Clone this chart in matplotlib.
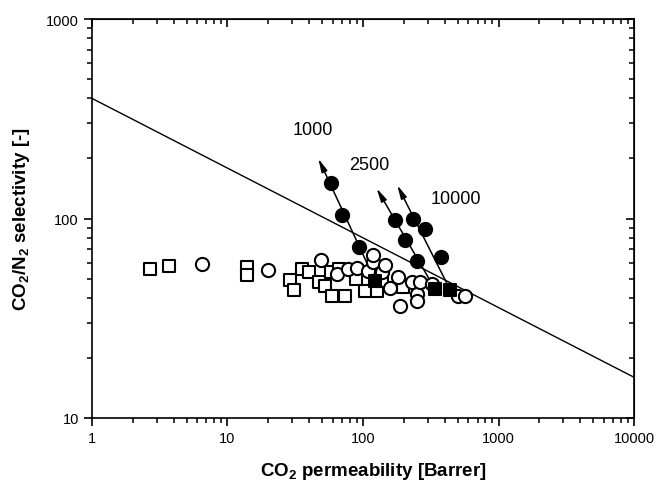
import matplotlib
matplotlib.use("Agg")
import matplotlib.pyplot as plt
from matplotlib.ticker import FuncFormatter, LogLocator, NullFormatter

plt.rcParams['font.family'] = ['Liberation Sans', 'DejaVu Sans']
plt.rcParams['mathtext.fontset'] = 'custom'
plt.rcParams['mathtext.rm'] = 'Liberation Sans'
plt.rcParams['mathtext.bf'] = 'Liberation Sans:bold'

# open squares: CO2 permeability [Barrer], selectivity
sq_perm = [2.7, 3.7, 14, 14, 29, 31, 35.6, 40, 47, 52, 58, 59, 66, 74, 89, 103, 126, 138, 197]
sq_sel = [56, 58, 57, 52, 49, 44, 56, 54, 48, 46, 54, 41, 56, 41, 50, 43.5, 43.5, 48.6, 45.4]

# open circles
ci_perm = [6.5, 19.8, 48.7, 64.6, 78, 90, 109, 119, 119, 137, 145, 158, 182, 188,
           229, 249, 249, 263, 321, 505, 566]
ci_sel = [59, 55.4, 62, 53, 55.8, 56.3, 54.7, 60.3, 65.6, 54.1, 58.5, 44.7, 50.7, 36.6,
          48.2, 41.8, 38.7, 47.9, 47, 41, 41]

# filled squares (base) and filled circles for each series
base_perm = [123, 340, 439]
base_sel = [48.8, 44.3, 44]
fill_perm = [[57.8, 69.6, 93], [172, 204, 249], [233, 287, 376]]
fill_sel = [[150, 104.5, 71.7], [98.6, 78.3, 61], [99.4, 88.6, 64.4]]
tip_perm = [46.8, 126, 179]
tip_sel = [200, 141.7, 147]
series_labels = ['1000', '2500', '10000']
label_pos = [(42.8, 278), (110.8, 187.5), (486, 126.7)]

# upper bound line
ub_perm = [1, 10000]
ub_sel = [400, 16]

fig = plt.figure(figsize=(6.56, 4.81), dpi=100)
ax = fig.add_axes([0.1402, 0.1289, 0.8263, 0.8295])
ax.set_xscale('log')
ax.set_yscale('log')
ax.set_xlim(1, 10000)
ax.set_ylim(10, 1000)

ax.plot(ub_perm, ub_sel, color='black', lw=1)

for i in range(3):
    ax.annotate('', xy=(tip_perm[i], tip_sel[i]), xytext=(base_perm[i], base_sel[i]),
                arrowprops=dict(arrowstyle='-|>,head_length=0.8,head_width=0.18',
                                color='black', lw=1.1, shrinkA=0, shrinkB=0),
                zorder=2)
    ax.text(label_pos[i][0], label_pos[i][1], series_labels[i], fontsize=13,
            ha='center', va='center')

ax.scatter(sq_perm, sq_sel, marker='s', s=70, facecolor='white', edgecolor='black',
           linewidth=1.5, zorder=3)
ax.scatter(ci_perm, ci_sel, marker='o', s=90, facecolor='white', edgecolor='black',
           linewidth=1.5, zorder=4)
ax.scatter(base_perm, base_sel, marker='s', s=70, facecolor='black', edgecolor='black',
           linewidth=1.5, zorder=5)
for i in range(3):
    ax.scatter(fill_perm[i], fill_sel[i], marker='o', s=90, facecolor='black',
               edgecolor='black', linewidth=1.5, zorder=5)

fmt = FuncFormatter(lambda v, p: '%g' % v)
ax.xaxis.set_major_formatter(fmt)
ax.yaxis.set_major_formatter(fmt)
ax.xaxis.set_major_locator(LogLocator(base=10, numticks=10))
ax.xaxis.set_minor_locator(LogLocator(base=10, subs=range(2, 10), numticks=20))
ax.xaxis.set_minor_formatter(NullFormatter())
ax.yaxis.set_minor_formatter(NullFormatter())
ax.tick_params(which='major', direction='out', length=6, width=1.2, labelsize=10.5)
ax.tick_params(which='minor', direction='out', length=3.5, width=1.1)
for s in ax.spines.values():
    s.set_linewidth(1.2)

top = ax.secondary_xaxis('top')
top.xaxis.set_minor_locator(LogLocator(base=10, subs=range(2, 10), numticks=20))
top.tick_params(which='major', direction='in', length=6, width=1.2, labeltop=False)
top.tick_params(which='minor', direction='in', length=3.5, width=1.1)
top.xaxis.set_major_formatter(NullFormatter())
top.xaxis.set_minor_formatter(NullFormatter())
right = ax.secondary_yaxis('right')
right.tick_params(which='major', direction='in', length=6, width=1.2, labelright=False)
right.tick_params(which='minor', direction='in', length=3.5, width=1.1)
right.yaxis.set_major_formatter(NullFormatter())
right.yaxis.set_minor_formatter(NullFormatter())

ax.set_xlabel(r'CO$_\mathbf{2}$ permeability [Barrer]', fontsize=13.5, fontweight='bold')
ax.xaxis.set_label_coords(0.52, -0.105)
ax.set_ylabel(r'CO$_\mathbf{2}$/N$_\mathbf{2}$ selectivity [-]', fontsize=13.5,
              fontweight='bold', labelpad=10)

fig.savefig('out.png', dpi=100)
